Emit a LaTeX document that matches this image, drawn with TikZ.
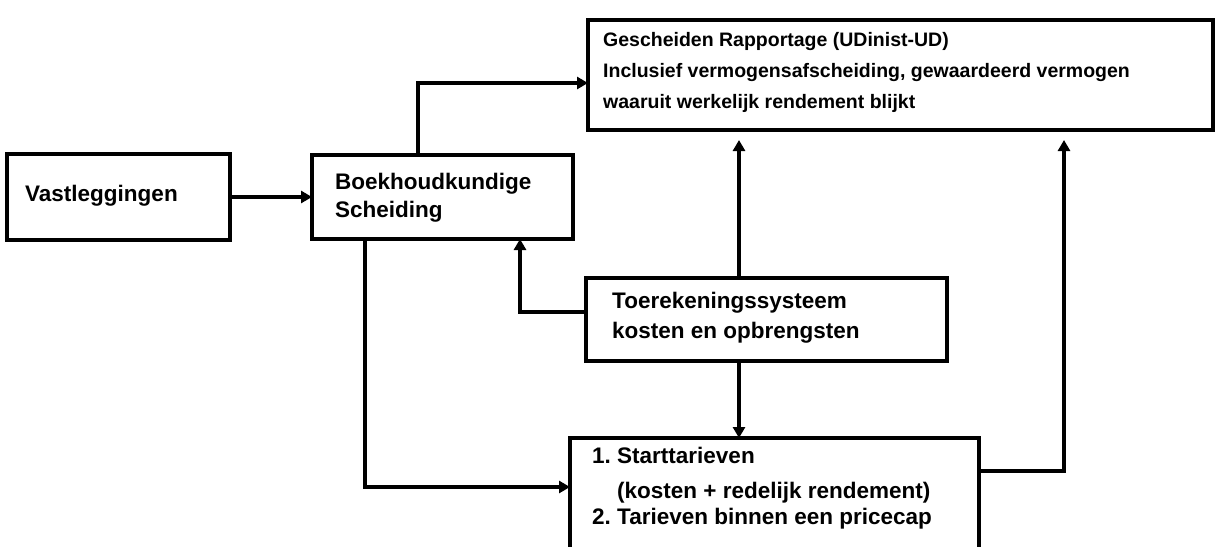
\documentclass[tikz,border=0pt]{standalone}
\usepackage{fontspec}
\setmainfont{Liberation Sans}
\usetikzlibrary{arrows.meta}
\frenchspacing
\begin{document}
\begin{tikzpicture}[x=1pt,y=-1pt,
  box/.style={draw=black,line width=3.5pt,fill=white,inner sep=0pt,outer sep=0pt},
  txt/.style={anchor=west,align=left,inner sep=0pt,font=\fontsize{22.5}{30}\selectfont\bfseries},
  conn/.style={draw=black,line width=4pt,line join=miter},
  arr/.style={conn,-{Triangle[length=11pt,width=12pt]}}]
\useasboundingbox (0,0) rectangle (1215,546);
\clip (0,0) rectangle (1215,546);
% boxes
\node[box,minimum width=223pt,minimum height=86pt] (vast) at (118.5,197) {};
\node[box,minimum width=261pt,minimum height=84pt] (boek) at (442.5,197) {};
\node[box,minimum width=625pt,minimum height=110pt] (rapp) at (900.5,75) {};
\node[box,minimum width=361pt,minimum height=83pt] (toer) at (766.5,319.5) {};
\node[box,minimum width=409pt,minimum height=130pt] (tar) at (774.5,503) {};
% texts
\node[txt] (tvast) at (25,196) {Vastleggingen};
\node[txt,font=\fontsize{22.5}{28}\selectfont\bfseries] (tboek) at (335,198) {Boekhoudkundige\\Scheiding};
\node[txt,font=\fontsize{19.5}{31}\selectfont\bfseries] (trapp) at (603,72) {Gescheiden Rapportage (UDinist-UD)\\Inclusief vermogensafscheiding, gewaardeerd vermogen\\waaruit werkelijk rendement blijkt};
\node[txt] (ttoer) at (612,318) {Toerekeningssysteem\\kosten en opbrengsten};
\node[txt] (ttar) at (592,488) {1. Starttarieven\\[5pt]\hspace*{25pt}(kosten + redelijk rendement)\\[-4pt]2. Tarieven binnen een pricecap};
% connector points
\coordinate (c1) at (418,83);
\coordinate (c2) at (739,140);
\coordinate (c3) at (1064,140);
\coordinate (c4) at (520,312);
\coordinate (c5) at (365,487);
\coordinate (c6) at (1064,471);
% connectors
\draw[arr] (vast.east) -- (boek.west);
\draw[arr] (boek.north -| c1) -- (c1) -- (c1 -| rapp.west);
\draw[arr] (toer.north -| c2) -- (c2);
\draw[arr] (tar.east |- c6) -- (c6) -- (c3);
\draw[arr] (toer.west |- c4) -- (c4) -- (c4 |- boek.south);
\draw[arr] (boek.south -| c5) -- (c5) -- (c5 -| tar.west);
\draw[arr] (toer.south -| c2) -- (c2 |- tar.north);
\end{tikzpicture}
\end{document}
